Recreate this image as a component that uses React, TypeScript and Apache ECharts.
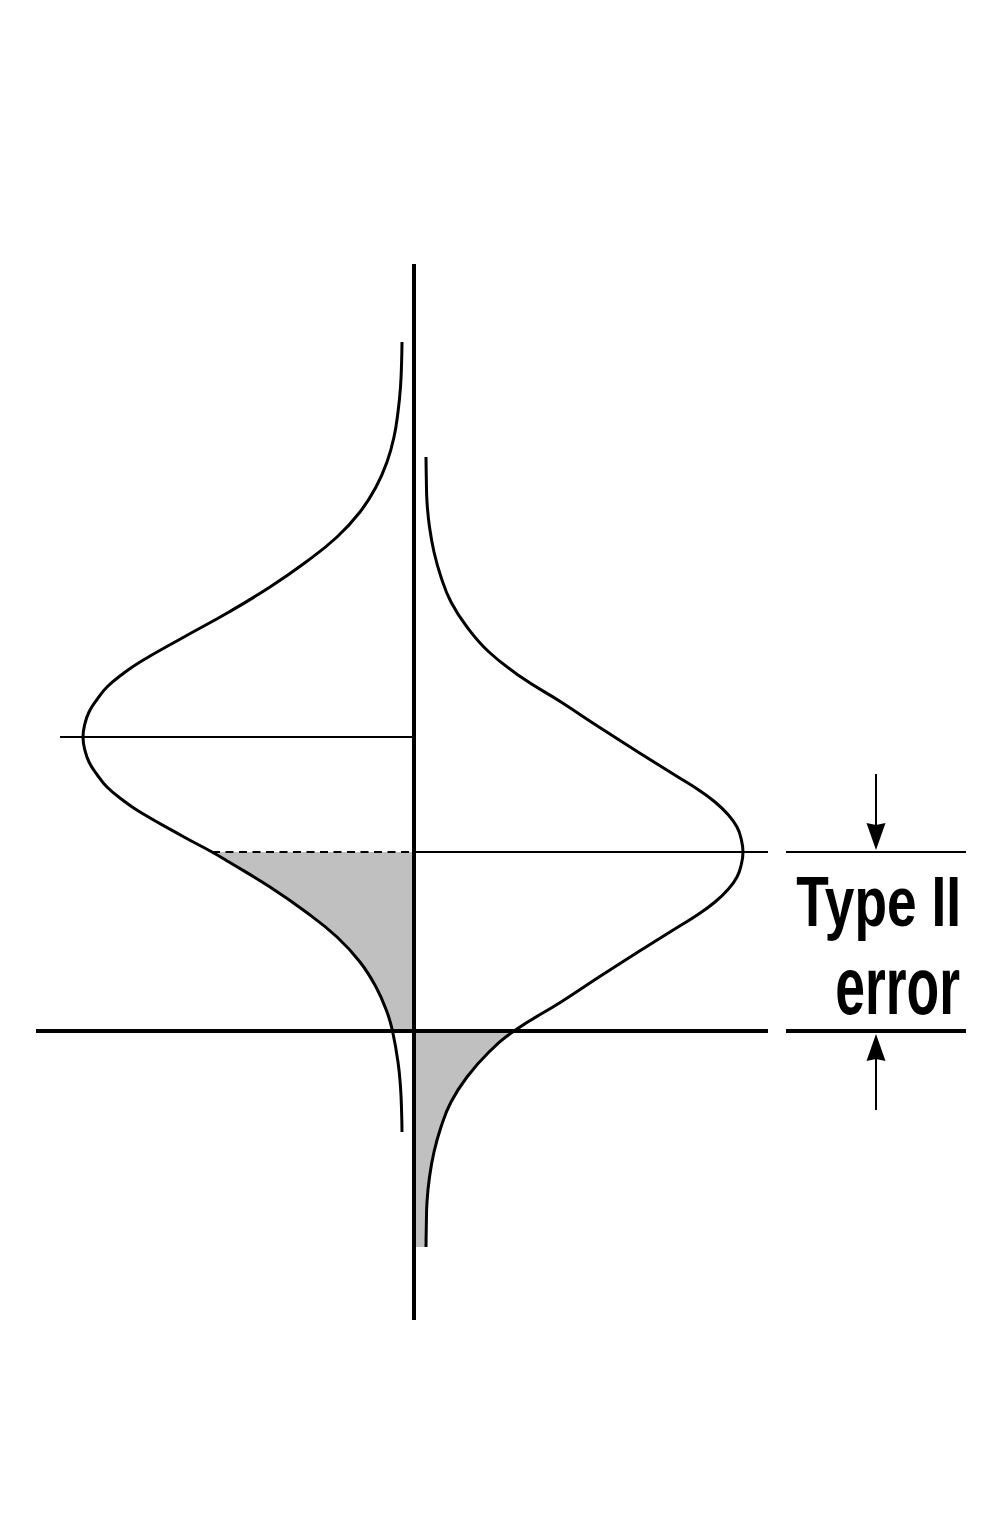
import React, { useEffect, useRef } from "react";
import * as echarts from "echarts";

const W = 1008;
const H = 1536;

// Null-hypothesis distribution (left): [horizontal, vertical]
const nullCurve: [number, number][] = [
  [402, 342], [401.6, 362], [400.5, 387], [398, 412], [394, 437], [387, 462],
  [376, 487], [360, 512], [337, 537], [306, 562], [270, 587], [229, 612],
  [184, 637], [140, 662], [122, 674.5], [107, 687], [97, 699.5], [89, 712],
  [84.7, 724.5], [83, 737], [84.7, 749.5], [89, 762], [97, 774.5], [107, 787],
  [122, 799.5], [140, 812], [184, 837], [212, 852], [229, 862], [270, 887],
  [306, 912], [337, 937], [360, 962], [376, 987], [387, 1012], [392.5, 1031],
  [398, 1062], [400.5, 1087], [401.6, 1112], [402, 1132],
];

// Alternative distribution (right)
const altCurve: [number, number][] = [
  [426, 457], [426.3, 477], [427, 502], [429.5, 527], [434, 552], [441, 577],
  [451, 602], [467, 627], [489, 652], [521, 677], [561, 702], [599, 727],
  [638, 752], [678, 777], [698, 789.5], [715, 802], [728, 814.5], [737, 827],
  [741.3, 839.5], [743, 852], [741.3, 864.5], [737, 877], [728, 889.5], [715, 902],
  [698, 914.5], [678, 927], [638, 952], [599, 977], [561, 1002], [514, 1031],
  [489, 1052], [467, 1077], [451, 1102], [441, 1127], [434, 1152], [429.5, 1177],
  [427, 1202], [426.3, 1227], [426, 1247],
];

// Reference levels
const AXIS_X = 414;
const AXIS_TOP = 264;
const AXIS_BOTTOM = 1320;
const NULL_MEAN = 737;
const ALT_MEAN = 852;
const CRITICAL = 1031;
const NULL_LINE_START = 60;
const CRIT_LINE_START = 36;
const LINE_END = 768;
const SIDE_START = 786;
const SIDE_END = 966;
const ARROW_X = 876;
const ARROW_TOP = 774;
const ARROW_BOTTOM = 1110;

const GRAY = "#c0c0c0";
const INK = "#000000";
const SMOOTH = 0.45;

function seg(data: number[][], width: number, type: any = "solid", z = 3) {
  return {
    type: "line",
    data,
    symbol: "none",
    silent: true,
    z,
    lineStyle: { color: INK, width, type, cap: "butt" },
  };
}

export default function App() {
  const ref = useRef<HTMLDivElement>(null);

  useEffect(() => {
    if (!ref.current) return;
    const chart = echarts.init(ref.current, undefined, { renderer: "svg" });

    const leftFill = nullCurve.filter(([, y]) => y >= ALT_MEAN && y <= CRITICAL);
    const leftCornerX = leftFill[leftFill.length - 1][0];
    const rightFill = altCurve.filter(([, y]) => y >= CRITICAL);
    const rightEnd = rightFill[rightFill.length - 1];

    const arrowUp = "path://M10,0 L20,28 L10,26 L0,28 Z";
    const arrowDown = "path://M0,0 L10,2 L20,0 L10,28 Z";

    const option: any = {
      animation: false,
      grid: { left: 0, right: 0, top: 0, bottom: 0, containLabel: false },
      xAxis: { type: "value", min: 0, max: W, show: false },
      yAxis: { type: "value", min: 0, max: H, inverse: true, show: false },
      series: [
        // shaded part of null distribution between the two horizontal levels
        {
          type: "line",
          data: leftFill,
          symbol: "none",
          smooth: SMOOTH,
          silent: true,
          z: 1,
          lineStyle: { width: 0 },
          areaStyle: { color: GRAY, opacity: 1, origin: ALT_MEAN },
        },
        {
          type: "line",
          data: [[leftCornerX - 1, CRITICAL], [AXIS_X, CRITICAL]],
          symbol: "none",
          silent: true,
          z: 1,
          lineStyle: { width: 0 },
          areaStyle: { color: GRAY, opacity: 1, origin: ALT_MEAN },
        },
        // shaded tail of alternative distribution below critical line
        {
          type: "line",
          data: rightFill,
          symbol: "none",
          smooth: SMOOTH,
          silent: true,
          z: 1,
          lineStyle: { width: 0 },
          areaStyle: { color: GRAY, opacity: 1, origin: CRITICAL },
        },
        {
          type: "line",
          data: [[AXIS_X, rightEnd[1]], [rightEnd[0] + 1, rightEnd[1]]],
          symbol: "none",
          silent: true,
          z: 1,
          lineStyle: { width: 0 },
          areaStyle: { color: GRAY, opacity: 1, origin: CRITICAL },
        },
        // curves
        {
          type: "line",
          data: nullCurve,
          symbol: "none",
          smooth: SMOOTH,
          silent: true,
          z: 2,
          lineStyle: { color: INK, width: 3 },
        },
        {
          type: "line",
          data: altCurve,
          symbol: "none",
          smooth: SMOOTH,
          silent: true,
          z: 2,
          lineStyle: { color: INK, width: 3 },
        },
        // reference lines
        seg([[AXIS_X, AXIS_TOP], [AXIS_X, AXIS_BOTTOM]], 4),
        seg([[NULL_LINE_START, NULL_MEAN], [AXIS_X, NULL_MEAN]], 2),
        seg([[leftFill[0][0], ALT_MEAN], [AXIS_X, ALT_MEAN]], 2, [8, 5.5]),
        seg([[AXIS_X, ALT_MEAN], [LINE_END, ALT_MEAN]], 2),
        seg([[CRIT_LINE_START, CRITICAL], [LINE_END, CRITICAL]], 4),
        seg([[SIDE_START, ALT_MEAN], [SIDE_END, ALT_MEAN]], 2),
        seg([[SIDE_START, CRITICAL], [SIDE_END, CRITICAL]], 4),
        seg([[ARROW_X, ARROW_TOP], [ARROW_X, ALT_MEAN - 12]], 2),
        seg([[ARROW_X, CRITICAL + 14], [ARROW_X, ARROW_BOTTOM]], 2),
        // arrow heads
        {
          type: "scatter",
          data: [[ARROW_X, ALT_MEAN - 2]],
          symbol: arrowDown,
          symbolSize: [19, 27],
          symbolOffset: [0, "-50%"],
          silent: true,
          z: 4,
          itemStyle: { color: INK, opacity: 1 },
        },
        {
          type: "scatter",
          data: [[ARROW_X, CRITICAL + 3]],
          symbol: arrowUp,
          symbolSize: [19, 27],
          symbolOffset: [0, "50%"],
          silent: true,
          z: 4,
          itemStyle: { color: INK, opacity: 1 },
        },
      ],
      graphic: [
        {
          type: "text",
          x: 961,
          y: 901,
          scaleX: 0.75,
          silent: true,
          style: {
            text: "Type II",
            fill: INK,
            font: 'bold 71px "Liberation Sans", Arial, sans-serif',
            align: "right",
            verticalAlign: "middle",
            textAlign: "right",
            textVerticalAlign: "middle",
          },
        },
        {
          type: "text",
          x: 960,
          y: 986,
          scaleX: 0.66,
          silent: true,
          style: {
            text: "error",
            fill: INK,
            font: 'bold 81px "Liberation Sans", Arial, sans-serif',
            align: "right",
            verticalAlign: "middle",
            textAlign: "right",
            textVerticalAlign: "middle",
          },
        },
      ],
    };

    chart.setOption(option);
    return () => chart.dispose();
  }, []);

  return (
    <div
      ref={ref}
      style={{ position: "absolute", left: 0, top: 0, width: W, height: H, background: "#fff" }}
    />
  );
}
